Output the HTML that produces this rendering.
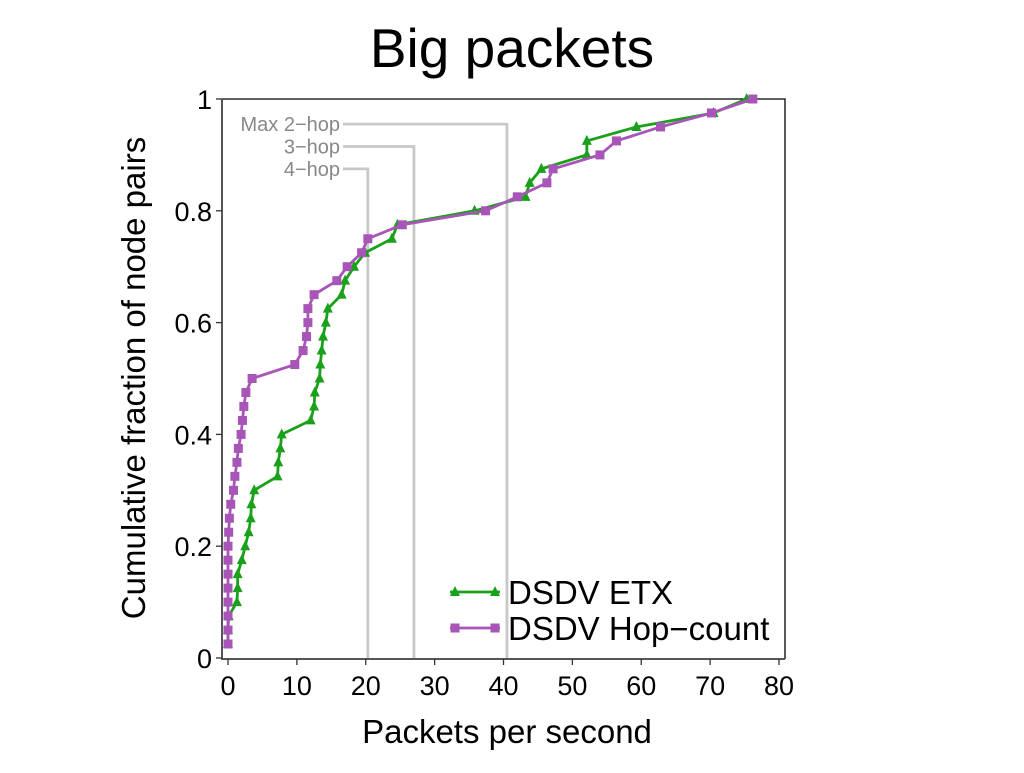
<!DOCTYPE html>
<html><head><meta charset="utf-8"><style>
body{margin:0;background:#fff;width:1024px;height:768px;overflow:hidden;font-family:"Liberation Sans",sans-serif}
</style></head><body>
<svg id="chart" width="1024" height="768" xmlns="http://www.w3.org/2000/svg" font-family="Liberation Sans, sans-serif">
<text x="512" y="67" font-size="55" text-anchor="middle">Big packets</text>
<g id="axes"></g>
<g id="marks"></g>
<text x="507" y="743" font-size="33" text-anchor="middle">Packets per second</text>
<text transform="translate(145,378) rotate(-90)" font-size="33" text-anchor="middle">Cumulative fraction of node pairs</text>
</svg>
<script>
const xTicks=[0,10,20,30,40,50,60,70,80];
const yTicks=[0,0.2,0.4,0.6,0.8,1];
const yTickLabels=["0","0.2","0.4","0.6","0.8","1"];
const etxX=[0,0,0.1,1.3,1.4,1.4,2.0,2.5,3.0,3.3,3.4,3.8,7.2,7.3,7.6,7.8,12.0,12.5,12.6,13.3,13.4,13.6,13.8,14.2,14.5,16.5,17.0,18.3,19.9,23.8,24.6,35.8,43.2,43.8,45.5,52.1,52.1,59.3,70.5,75.3];
const hopX=[0,0,0,0,0,0,0,0,0.1,0.2,0.4,0.8,1.0,1.3,1.5,1.9,2.1,2.3,2.6,3.5,9.7,10.9,11.4,11.6,11.6,12.5,15.8,17.3,19.4,20.3,25.3,37.4,42.0,46.3,47.2,54.0,56.4,62.8,70.2,76.2];
const cdfStep=[];for(let i=1;i<=40;i++)cdfStep.push(i/40);
const refNames=["4-hop","3-hop","Max 2-hop"];
const refX=[20.3,27.0,40.5];
const refLabelY=[0.875,0.915,0.955];
const NS="http://www.w3.org/2000/svg";
const X0=228,X1=779,Y0=658,Y1=99;
const sx=v=>X0+(X1-X0)*v/80;
const sy=v=>Y0-(Y0-Y1)*v;
function mk(t,a,p){const e=document.createElementNS(NS,t);for(const k in a)e.setAttribute(k,a[k]);p.appendChild(e);return e;}
const axes=document.getElementById('axes'),marks=document.getElementById('marks');
let f=mk('path',{d:`M222 ${Y1}H785V${Y0+1}`,fill:'none',stroke:'#000','stroke-width':1.3},axes);


let ax=mk('path',{d:`M222 ${Y1}V${Y0+1}H785`,fill:'none',stroke:'#555','stroke-width':2},axes);


xTicks.forEach(v=>{
 const t=mk('line',{x1:sx(v),x2:sx(v),y1:Y0+1,y2:Y0+7,stroke:'#333','stroke-width':1.3},axes);
 
 
 const l=mk('text',{x:sx(v),y:Y0+37,'font-size':27,'text-anchor':'middle'},axes);l.textContent=v;
 
 
});
yTicks.forEach((v,i)=>{
 const t=mk('line',{x1:216,x2:222,y1:sy(v),y2:sy(v),stroke:'#333','stroke-width':1.3},axes);
 
 
 const l=mk('text',{x:212,y:sy(v)+10,'font-size':27,'text-anchor':'end'},axes);l.textContent=yTickLabels[i];
 
 
});
refX.forEach((v,i)=>{
 const yy=sy(refLabelY[i]);
 const p=mk('path',{d:`M343 ${yy}H${sx(v)}V${Y0}`,fill:'none',stroke:'#c8c8c8','stroke-width':2.8},marks);
 
 
 const l=mk('text',{x:340,y:yy+7,'font-size':20,fill:'#888','text-anchor':'end'},marks);l.textContent=refNames[i].replace('-','\u2212');
 
 
});
function series(xs,color,name,shape){
 const pts=xs.map((x,i)=>[sx(x),sy(cdfStep[i])]);
 const pl=mk('polyline',{points:pts.map(p=>p.join(',')).join(' '),fill:'none',stroke:color,'stroke-width':2.8},marks);
 
 
 pts.forEach(p=>{
  let m;
  if(shape==='sq')m=mk('rect',{x:p[0]-4.5,y:p[1]-4.5,width:9,height:9,fill:color},marks);
  else m=mk('polygon',{points:`${p[0]},${p[1]-6} ${p[0]-5},${p[1]+4} ${p[0]+5},${p[1]+4}`,fill:color},marks);
  
  
 });
}
series(etxX,'#1aa01a','etx','tri');
series(hopX,'#a855b8','hop-count','sq');
[['DSDV ETX','#1aa01a','tri',592],['DSDV Hop\u2212count','#a855b8','sq',628]].forEach(([t,c,s,y])=>{
 const g=mk('g',{},marks);
 
 
 mk('line',{x1:450,x2:500,y1:y,y2:y,stroke:c,'stroke-width':2.8},g);
 [455,495].forEach(x=>{
  if(s==='sq')mk('rect',{x:x-4.5,y:y-4.5,width:9,height:9,fill:c},g);
  else mk('polygon',{points:`${x},${y-6} ${x-5},${y+4} ${x+5},${y+4}`,fill:c},g);
 });
 const l=mk('text',{x:508,y:y+12,'font-size':33},g);l.textContent=t;
});
</script>
</body></html>
